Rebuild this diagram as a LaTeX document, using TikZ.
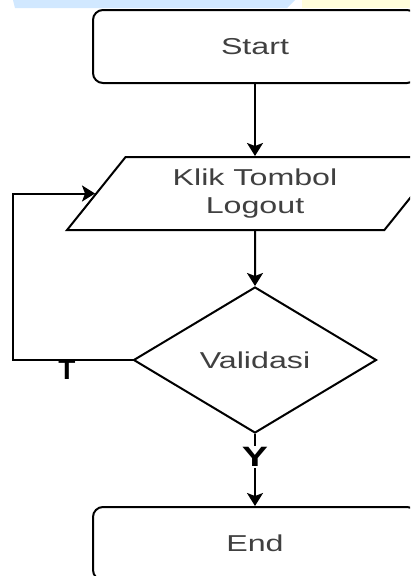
\documentclass[tikz,border=0pt]{standalone}
\usepackage{graphicx}
\usepackage{fontspec}
\setmainfont{Liberation Sans}
\usetikzlibrary{shapes.geometric}
\usetikzlibrary{arrows.meta}

\newcommand{\widetxt}[1]{\scalebox{1.4}[1]{#1}}

\begin{document}
\begin{tikzpicture}[x=1pt, y=-1pt,
    box/.style={rectangle, draw, rounded corners=10pt, line width=2pt, minimum width=324pt, minimum height=73pt, text=black!75, font=\fontsize{23}{28}\selectfont},
    inbox/.style={trapezium, trapezium left angle=53, trapezium right angle=127, trapezium stretches=true, draw, line width=2pt, minimum width=376pt, minimum height=73pt, inner sep=0pt, align=center, text=black!75, font=\fontsize{23}{28}\selectfont},
    decide/.style={diamond, draw, line width=2pt, minimum width=243pt, minimum height=146pt, inner sep=0pt, text=black!75, font=\fontsize{23}{28}\selectfont},
    lbl/.style={font=\fontsize{28}{30}\selectfont\bfseries, inner sep=1pt},
    arr/.style={-{Stealth[length=13pt, width=16pt, inset=3pt]}, line width=2pt}]
            \useasboundingbox (0,0) rectangle (410,576);
            \clip (0,0) rectangle (410,576);

            % marks on top
            \fill[blue!50!cyan!18] (13,0) -- (295,0) -- (287,8) -- (15,8) -- cycle;
            \fill[yellow!14] (302,0) rectangle (410,8);

            % Start
            \node[box] (start) at (255, 46.5) {\widetxt{Start}};

            % Klik Tombol Logout
            \node[inbox] (klik) at (255, 193.5) {\widetxt{Klik Tombol}\\\widetxt{Logout}};

            % Validasi
            \node[decide] (valid) at (255, 360) {\widetxt{Validasi}};

            % End
            \node[box] (end) at (255, 543.5) {\widetxt{End}};

            \coordinate (back) at (13, 360);

            \draw[arr] (start) -- (klik);
            \draw[arr] (klik) -- (valid);
            \draw[arr] (valid) -- node[lbl, fill=white, pos=0.32] (yes) {\widetxt{Y}} (end);
            \draw[arr] (valid.west) -- (back) |- (klik.west);
            \node[lbl] (no) at (67, 370) {T};
        \end{tikzpicture}
\end{document}
